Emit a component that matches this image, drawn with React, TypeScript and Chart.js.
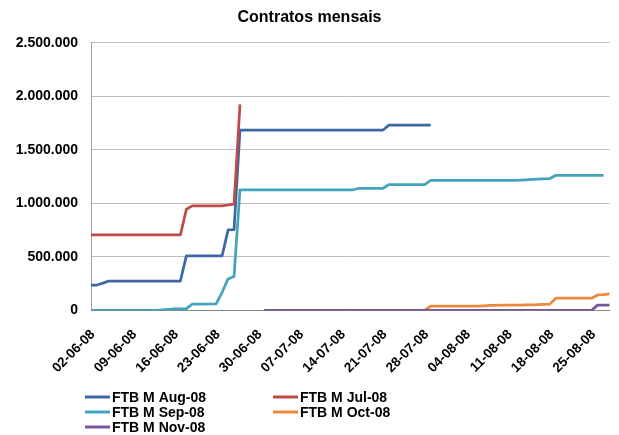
import React, { useEffect, useRef } from "react";
import { Chart, registerables } from "chart.js";

Chart.register(...registerables);

const TITLE = "Contratos mensais";

// calendar days (weekend values are null: no trading)
const DATES = [
  "02-06-08", "03-06-08", "04-06-08", "05-06-08", "06-06-08", "07-06-08", "08-06-08",
  "09-06-08", "10-06-08", "11-06-08", "12-06-08", "13-06-08", "14-06-08", "15-06-08",
  "16-06-08", "17-06-08", "18-06-08", "19-06-08", "20-06-08", "21-06-08", "22-06-08",
  "23-06-08", "24-06-08", "25-06-08", "26-06-08", "27-06-08", "28-06-08", "29-06-08",
  "30-06-08", "01-07-08", "02-07-08", "03-07-08", "04-07-08", "05-07-08", "06-07-08",
  "07-07-08", "08-07-08", "09-07-08", "10-07-08", "11-07-08", "12-07-08", "13-07-08",
  "14-07-08", "15-07-08", "16-07-08", "17-07-08", "18-07-08", "19-07-08", "20-07-08",
  "21-07-08", "22-07-08", "23-07-08", "24-07-08", "25-07-08", "26-07-08", "27-07-08",
  "28-07-08", "29-07-08", "30-07-08", "31-07-08", "01-08-08", "02-08-08", "03-08-08",
  "04-08-08", "05-08-08", "06-08-08", "07-08-08", "08-08-08", "09-08-08", "10-08-08",
  "11-08-08", "12-08-08", "13-08-08", "14-08-08", "15-08-08", "16-08-08", "17-08-08",
  "18-08-08", "19-08-08", "20-08-08", "21-08-08", "22-08-08", "23-08-08", "24-08-08",
  "25-08-08", "26-08-08", "27-08-08", "28-08-08",
];

const n = null;

const AUG_08 = [
  238000, 238000, 256000, 275000, 275000, n, n,
  275000, 275000, 275000, 275000, 275000, n, n,
  275000, 275000, 510000, 510000, 510000, n, n,
  510000, 510000, 752000, 755000, 1685000, n, n,
  1685000, 1685000, 1685000, 1685000, 1685000, n, n,
  1685000, 1685000, 1685000, 1685000, 1685000, n, n,
  1685000, 1685000, 1685000, 1685000, 1685000, n, n,
  1685000, 1730000, 1730000, 1730000, 1730000, n, n,
  1730000, 1730000, n, n, n, n, n,
  n, n, n, n, n, n, n,
  n, n, n, n, n, n, n,
  n, n, n, n, n, n, n,
  n, n, n, n,
];

const JUL_08 = [
  705000, 705000, 705000, 705000, 705000, n, n,
  705000, 705000, 705000, 705000, 705000, n, n,
  705000, 705000, 945000, 977000, 977000, n, n,
  977000, 977000, 985000, 993000, 1925000, n, n,
  n, n, n, n, n, n, n,
  n, n, n, n, n, n, n,
  n, n, n, n, n, n, n,
  n, n, n, n, n, n, n,
  n, n, n, n, n, n, n,
  n, n, n, n, n, n, n,
  n, n, n, n, n, n, n,
  n, n, n, n, n, n, n,
  n, n, n, n,
];

const SEP_08 = [
  2000, 2000, 2000, 2000, 2000, n, n,
  2000, 2000, 2000, 2000, 2000, n, n,
  15000, 16000, 18000, 60000, 60000, n, n,
  62000, 170000, 295000, 318000, 1127000, n, n,
  1127000, 1127000, 1127000, 1127000, 1127000, n, n,
  1127000, 1127000, 1127000, 1127000, 1127000, n, n,
  1127000, 1127000, 1127000, 1141000, 1141000, n, n,
  1141000, 1176000, 1176000, 1176000, 1176000, n, n,
  1176000, 1215000, 1215000, 1215000, 1215000, n, n,
  1215000, 1215000, 1215000, 1215000, 1215000, n, n,
  1215000, 1215000, 1216000, 1220000, 1224000, n, n,
  1232000, 1262000, 1262000, 1262000, 1262000, n, n,
  1262000, 1262000, 1262000, n,
];

const OCT_08 = [
  n, n, n, n, n, n, n,
  n, n, n, n, n, n, n,
  n, n, n, n, n, n, n,
  n, n, n, n, n, n, n,
  n, n, n, n, n, n, n,
  n, n, n, n, n, n, n,
  n, n, n, n, n, n, n,
  n, n, n, n, n, n, n,
  3000, 40000, 40000, 40000, 40000, n, n,
  40000, 40000, 41000, 44000, 47000, n, n,
  51000, 51000, 51000, 52000, 53000, n, n,
  60000, 115000, 115000, 115000, 115000, n, n,
  115000, 145000, 148000, 155000,
];

const NOV_08 = [
  n, n, n, n, n, n, n,
  n, n, n, n, n, n, n,
  n, n, n, n, n, n, n,
  n, n, n, n, n, n, n,
  n, 1000, 1000, 1000, 1000, n, n,
  1000, 1000, 1000, 1000, 1000, n, n,
  1000, 1000, 1000, 1000, 1000, n, n,
  1000, 1000, 1000, 1000, 1000, n, n,
  1000, 1000, 1000, 1000, 1000, n, n,
  1000, 1000, 1000, 1000, 1000, n, n,
  1000, 1000, 1000, 1000, 1000, n, n,
  1000, 1000, 1000, 1000, 1000, n, n,
  1000, 50000, 50000, 50000,
];

const SERIES_NAMES = ["FTB M Aug-08", "FTB M Jul-08", "FTB M Sep-08", "FTB M Oct-08", "FTB M Nov-08"];
const SERIES_DATA = [AUG_08, JUL_08, SEP_08, OCT_08, NOV_08];
const SERIES_COLORS = ["#3E68A3", "#BE4B48", "#44A3BC", "#EB8A3E", "#77579A"];

const Y_MAX = 2500000;
const Y_STEP = 500000;

const FONT = "Arial, 'Liberation Sans', sans-serif";

function fmt(v: number): string {
  return String(Math.round(v)).replace(/\B(?=(\d{3})+(?!\d))/g, ".");
}

const legendPlugin = {
  id: "twoColLegend",
  afterDraw(chart: any) {
    const ctx = chart.ctx;
    ctx.save();
    ctx.font = `bold 14px ${FONT}`;
    ctx.textBaseline = "middle";
    ctx.textAlign = "left";
    const baseY = chart.height - 38;
    SERIES_NAMES.forEach((name, i) => {
      const col = i % 2;
      const row = Math.floor(i / 2);
      const x0 = col === 0 ? 85 : 273;
      const y = baseY + row * 15;
      ctx.strokeStyle = SERIES_COLORS[i];
      ctx.lineWidth = 3;
      ctx.beginPath();
      ctx.moveTo(x0, y);
      ctx.lineTo(x0 + 25, y);
      ctx.stroke();
      ctx.fillStyle = "#000";
      ctx.fillText(name, x0 + 27, y + 1);
    });
    ctx.restore();
  },
};

export default function App() {
  const ref = useRef<HTMLCanvasElement | null>(null);

  useEffect(() => {
    document.body.style.margin = "0";
    if (!ref.current) return;
    const chart = new Chart(ref.current, {
      type: "line",
      data: {
        labels: DATES,
        datasets: SERIES_NAMES.map((name, i) => ({
          label: name,
          data: SERIES_DATA[i],
          borderColor: SERIES_COLORS[i],
          backgroundColor: SERIES_COLORS[i],
          borderWidth: 2.75,
          pointRadius: 0,
          pointHoverRadius: 0,
          tension: 0,
          spanGaps: true,
          fill: false,
          borderJoinStyle: "round" as const,
          order: SERIES_NAMES.length - i,
        })),
      },
      options: {
        animation: false,
        responsive: true,
        maintainAspectRatio: false,
        layout: { padding: 0 },
        plugins: {
          legend: { display: false },
          tooltip: { enabled: false },
          title: {
            display: true,
            text: TITLE,
            color: "#000",
            font: { size: 16, weight: "bold", family: FONT },
            padding: { top: 8, bottom: 15.5 },
          },
        },
        scales: {
          x: {
            type: "category",
            offset: false,
            grid: { display: false, drawTicks: false },
            border: { display: true, color: "#868686", width: 1 },
            ticks: {
              autoSkip: false,
              minRotation: 45,
              maxRotation: 45,
              padding: 16,
              labelOffset: 2,
              color: "#000",
              font: { size: 13.5, weight: "bold", family: FONT },
              callback: (_v: any, idx: number) => (idx % 7 === 0 ? DATES[idx] : null),
            },
            afterFit: (scale: any) => {
              scale.height = 124.5;
              scale.paddingLeft = 0;
              scale.paddingRight = 9.5;
            },
          },
          y: {
            min: 0,
            max: Y_MAX,
            grid: { color: "#bdbdbd", lineWidth: 1, drawTicks: false },
            border: { display: true, color: "#a0a0a0", width: 1 },
            ticks: {
              stepSize: Y_STEP,
              padding: 13,
              color: "#000",
              font: { size: 14, weight: "bold", family: FONT },
              callback: (v: any) => fmt(Number(v)),
            },
            afterFit: (scale: any) => {
              scale.width = 91;
            },
          },
        },
      },
      plugins: [legendPlugin],
    });
    return () => chart.destroy();
  }, []);

  return (
    <div style={{ position: "relative", width: 619, height: 435 }}>
      <canvas ref={ref} />
    </div>
  );
}
